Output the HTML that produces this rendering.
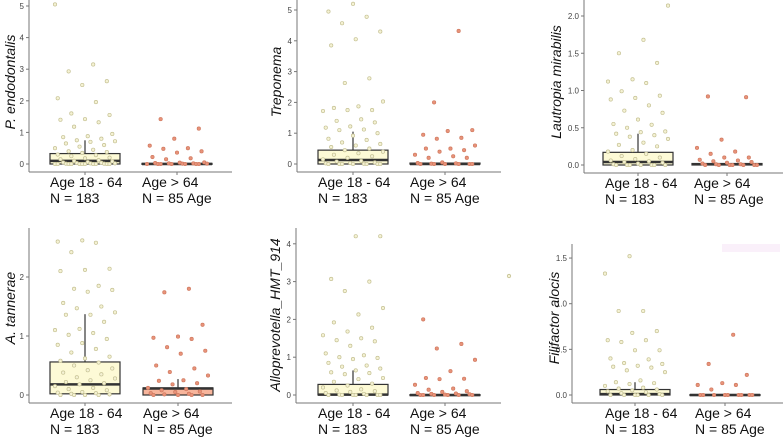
<!DOCTYPE html>
<html><head><meta charset="utf-8"><style>
html,body{margin:0;padding:0;background:#fff;}
svg{display:block;}
</style></head><body>
<svg id="chart" width="783" height="439" viewBox="0 0 783 439" xmlns="http://www.w3.org/2000/svg">
<rect x="722" y="244" width="58" height="8" fill="#faf0fa"/>
<circle cx="509" cy="276" r="1.7" fill="#f5f2d4" stroke="#c4c092" stroke-width="0.8"/>
</svg>
<script>
const groupLabels = ["Age 18 - 64", "Age > 64"];
const groupN = ["N = 183", "N = 85 Age"];
const panelTitles = ["P. endodontalis","Treponema","Lautropia mirabilis","A. tannerae","Alloprevotella_HMT_914","Filifactor alocis"];
const panelTicks = [[0,1,2,3,4,5],[0,1,2,3,4,5],[0,0.5,1,1.5,2],[0,1,2],[0,1,2,3,4],[0,0.5,1,1.5]];
const tickLabels = [["0","1","2","3","4","5"],["0","1","2","3","4","5"],["0.0","0.5","1.0","1.5","2.0"],["0","1","2"],["0","1","2","3","4"],["0.0","0.5","1.0","1.5"]];
// box stats: [q1, median, q3, upper whisker]
const boxYoung = [[0,0.1,0.33,0.75],[0,0.13,0.45,1.05],[0,0.04,0.17,0.42],[0.02,0.18,0.56,1.37],[0,0.01,0.28,0.65],[0,0.01,0.06,0.14]];
const boxOld = [[0,0,0.02,0],[0,0,0.03,0],[0,0.01,0.02,0],[0,0.11,0.12,0.27],[0,0,0.01,0],[0,0,0.005,0]];
const ptsYoung = [
[5.05,3.15,2.93,2.62,2.5,2.08,1.96,1.6,1.55,1.42,1.4,1.32,1.18,0.95,0.88,0.85,0.8,0.75,0.72,0.7,0.65,0.6,0.55,0.5,0.45,0.4,0.38,0.35,0.3,0.28,0.25,0.2,0.18,0.15,0.12,0.1,0.08,0.06,0.05,0.04,0.03,0.02,0.02,0.01,0.01,0,0,0,0,0,0,0,0,0,0,0],
[5.2,4.95,4.78,4.57,4.3,4.05,3.85,2.78,2.63,2.03,1.87,1.82,1.75,1.75,1.72,1.45,1.4,1.35,1.22,1.18,1.12,1.1,1.0,0.92,0.82,0.78,0.7,0.65,0.6,0.55,0.5,0.45,0.4,0.35,0.3,0.25,0.2,0.15,0.1,0.08,0.05,0.03,0.02,0.01,0,0,0,0,0,0,0],
[2.14,1.68,1.5,1.37,1.15,1.12,1.1,0.99,0.93,0.9,0.88,0.8,0.73,0.7,0.61,0.55,0.54,0.5,0.45,0.44,0.42,0.4,0.38,0.35,0.3,0.27,0.25,0.2,0.18,0.15,0.12,0.1,0.08,0.06,0.05,0.04,0.03,0.02,0.01,0,0,0,0,0,0,0],
[2.62,2.6,2.58,2.42,2.14,2.12,2.1,1.85,1.8,1.78,1.75,1.56,1.5,1.47,1.4,1.36,1.36,1.24,1.12,1.1,1.05,1.02,0.95,0.88,0.85,0.78,0.72,0.65,0.62,0.58,0.55,0.5,0.45,0.42,0.38,0.35,0.3,0.28,0.25,0.22,0.2,0.18,0.15,0.12,0.1,0.08,0.05,0.04,0.03,0.02,0.01,0,0,0,0],
[4.2,4.2,3.07,3.0,2.75,2.3,2.13,1.92,1.78,1.68,1.58,1.5,1.45,1.42,1.3,1.1,1.05,1.0,0.98,0.95,0.85,0.78,0.75,0.7,0.65,0.6,0.58,0.55,0.45,0.42,0.35,0.3,0.25,0.2,0.15,0.12,0.1,0.08,0.05,0.03,0.01,0,0,0,0,0,0,0],
[1.52,1.33,0.92,0.92,0.7,0.68,0.6,0.6,0.58,0.49,0.49,0.4,0.39,0.35,0.34,0.32,0.31,0.3,0.27,0.25,0.16,0.14,0.13,0.12,0.1,0.08,0.07,0.06,0.05,0.04,0.03,0.02,0.01,0,0,0,0,0,0]];
const ptsOld = [
[1.42,1.12,0.8,0.58,0.5,0.48,0.4,0.36,0.22,0.18,0.15,0.05,0.04,0.03,0.02,0.02,0.01,0.01,0,0,0,0,0,0,0],
[4.32,2.0,1.1,1.07,0.95,0.85,0.82,0.6,0.5,0.5,0.45,0.4,0.3,0.25,0.2,0.2,0.05,0.03,0.02,0.01,0,0,0,0,0,0],
[0.92,0.91,0.34,0.23,0.18,0.15,0.1,0.1,0.07,0.06,0.05,0.04,0.03,0.02,0.01,0.01,0,0,0,0,0,0,0],
[1.8,1.74,1.19,0.99,0.97,0.95,0.81,0.75,0.7,0.5,0.45,0.39,0.33,0.25,0.24,0.2,0.18,0.12,0.1,0.08,0.06,0.05,0.03,0.02,0.01,0,0,0,0],
[2.0,1.35,1.23,0.93,0.63,0.45,0.43,0.42,0.27,0.17,0.14,0.1,0.08,0.05,0.04,0.03,0.02,0.01,0,0,0,0,0,0],
[0.66,0.34,0.22,0.13,0.11,0.11,0.06,0,0,0,0,0,0,0,0,0]];

// layout (pixels)
const layout = [
 {ax:29,top:0,bot:172,right:232,y0:164,unit:31.6,c:[85,177],tx:15,ty:82,lx:50,lb:187},
 {ax:297,top:0,bot:172,right:501,y0:164,unit:30.8,c:[353,445],tx:281,ty:82,lx:318,lb:187},
 {ax:584,top:0,bot:173,right:783,y0:165,unit:74.5,c:[638,727],tx:561,ty:82,lx:605,lb:188},
 {ax:29,top:228,bot:403,right:232,y0:395,unit:59,c:[85,178],tx:15,ty:308,lx:50,lb:418},
 {ax:296,top:228,bot:403,right:501,y0:395,unit:37.8,c:[353,445],tx:280,ty:315,lx:318,lb:418},
 {ax:572,top:244,bot:403,right:783,y0:395,unit:91.3,c:[635,725],tx:559,ty:318,lx:605,lb:418}];

const NS="http://www.w3.org/2000/svg";
const svg=document.getElementById('chart');
function mk(tag,attrs,parent){const e=document.createElementNS(NS,tag);for(const k in attrs)e.setAttribute(k,attrs[k]);(parent||svg).appendChild(e);return e;}
const fills=[["#fdfad6","#f5f2d4","#c4c092"],["#f7b59c","#e8937a","#d07a60"]];
layout.forEach((L,p)=>{
  const g=mk('g',{});
  
  
  const Y=v=>L.y0-v*L.unit;
  const ya=mk('line',{x1:L.ax,y1:L.top,x2:L.ax,y2:L.bot,stroke:'#777','stroke-width':1},g);
  
  
  const xa=mk('line',{x1:L.ax,y1:L.bot,x2:L.right,y2:L.bot,stroke:'#777','stroke-width':1},g);
  
  
  panelTicks[p].forEach((t,i)=>{
    mk('line',{x1:L.ax-3,y1:Y(t),x2:L.ax,y2:Y(t),stroke:'#777'},g);
    const tl=mk('text',{x:L.ax-5,y:Y(t)+3,'text-anchor':'end','font-size':8,fill:'#444','font-family':'Liberation Sans, sans-serif'},g);
    tl.textContent=tickLabels[p][i];
    
    
  });
  const title=mk('text',{x:0,y:0,transform:`translate(${L.tx},${L.ty}) rotate(-90)`,'text-anchor':'middle','font-size':14,'font-style':'italic',fill:'#111','font-family':'Liberation Sans, sans-serif'},g);
  title.textContent=panelTitles[p];
  
  
  [boxYoung[p],boxOld[p]].forEach((b,k)=>{
    const c=L.c[k];
    mk('line',{x1:c,y1:L.bot,x2:c,y2:L.bot+3,stroke:'#777'},g);
    const lab=mk('text',{x:L.lx+k*(L.c[1]-L.c[0]),y:L.lb,'font-size':14,fill:'#111','font-family':'Liberation Sans, sans-serif'},g);
    lab.textContent=groupLabels[k];
    
    
    const nl=mk('text',{x:L.lx+k*(L.c[1]-L.c[0]),y:L.lb+16,'font-size':14,fill:'#111','font-family':'Liberation Sans, sans-serif'},g);
    nl.textContent=groupN[k];
    
    
    if(b[3]>b[2]){
      const w=mk('line',{x1:c,y1:Y(b[2]),x2:c,y2:Y(b[3]),stroke:'#333','stroke-width':1.2},g);
      
      
    }
    const bx=mk('rect',{x:c-35,y:Y(b[2]),width:70,height:Math.max(Y(b[0])-Y(b[2]),1),fill:fills[k][0],stroke:'#333','stroke-width':1.2},g);
    
    
    const md=mk('line',{x1:c-35,y1:Y(b[1]),x2:c+35,y2:Y(b[1]),stroke:'#333','stroke-width':2.5},g);
    
    
    const pts=k?ptsOld[p]:ptsYoung[p];
    pts.forEach((v,i)=>{
      const j=(((i*37+p*11+k*5)%23)/22*2-1)*30;
      const pt=mk('circle',{cx:c+j,cy:Y(v),r:1.7,fill:fills[k][1],stroke:fills[k][2],'stroke-width':0.7},g);
      
      
    });
  });
});
</script>
</body></html>
